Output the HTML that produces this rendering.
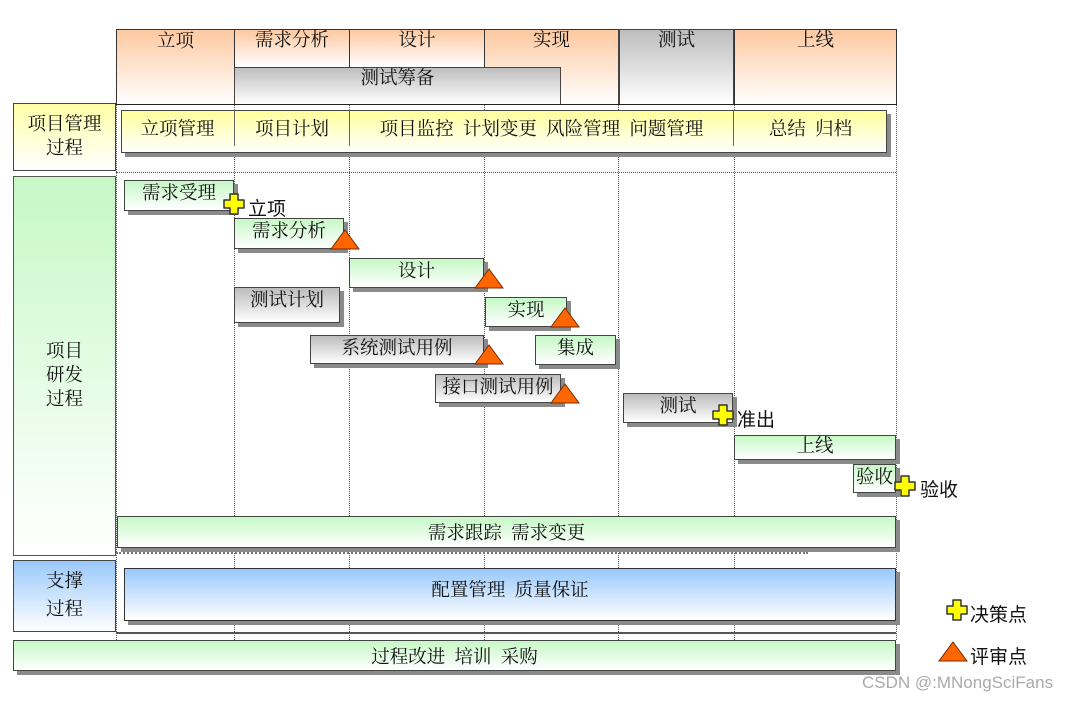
<!DOCTYPE html>
<html><head><meta charset="utf-8"><style>
*{margin:0;padding:0;box-sizing:border-box}
body{width:1077px;height:702px;background:#fff;position:relative;overflow:hidden;font-family:"Liberation Serif","Noto Serif CJK SC","Noto Sans CJK SC",serif;color:#111}
.a{position:absolute}
.t{display:flex;align-items:flex-start;justify-content:center;font-size:18.5px;line-height:22px}
.c{display:flex;align-items:center;justify-content:center;font-size:18.5px}
.org{background:linear-gradient(#fdc9a0,#fff);border:1px solid #333}
.gry{background:linear-gradient(#bdbdbd,#fff);border:1px solid #444}
.grn{background:linear-gradient(#c6f8c6,#fff);border:1px solid #444;box-shadow:4px 4px 0 #8a8a8a}
.gbx{background:linear-gradient(#bcbcbc,#fff);border:1px solid #444;box-shadow:4px 4px 0 #8a8a8a}
.yel{background:linear-gradient(#ffff9c,#fff);border:1px solid #444;box-shadow:4px 4px 0 #8a8a8a}
.blu{background:linear-gradient(#99c8fb,#fff);border:1px solid #333;box-shadow:4px 4px 0 #8a8a8a}
.vl{position:absolute;width:0;border-left:1px dotted #555}
.hl{position:absolute;height:0;border-top:1px dotted #555}
.lbl{font-family:"Liberation Sans","Noto Sans CJK SC",sans-serif;font-size:19px;position:absolute}
</style></head><body>
<div class="vl" style="left:234px;top:104px;height:536px"></div>
<div class="vl" style="left:349px;top:104px;height:536px"></div>
<div class="vl" style="left:484px;top:104px;height:536px"></div>
<div class="vl" style="left:618px;top:104px;height:536px"></div>
<div class="vl" style="left:734px;top:104px;height:536px"></div>
<div class="vl" style="left:896px;top:104px;height:536px"></div>
<div class="vl" style="left:116px;top:104px;height:536px"></div>
<div class="hl" style="left:116px;top:172px;width:780px"></div>
<div class="hl" style="left:116px;top:552px;width:692px;border-top:2px dotted #777"></div>
<div class="a" style="left:116px;top:632px;width:780px;height:2px;background:#555"></div>

<div class="a t org" style="left:116px;top:29px;width:119px;height:76px;padding-top:1px">立项</div>
<div class="a t org" style="left:234px;top:29px;width:116px;height:39px">需求分析</div>
<div class="a t org" style="left:349px;top:29px;width:136px;height:39px">设计</div>
<div class="a t org" style="left:484px;top:29px;width:135px;height:76px">实现</div>
<div class="a t gry" style="left:618px;top:29px;width:117px;height:76px;border-width:1px 2px">测试</div>
<div class="a t org" style="left:734px;top:29px;width:163px;height:76px">上线</div>
<div class="a t gry" style="left:234px;top:67px;width:327px;height:38px;padding-top:0">测试筹备</div>
<div class="a" style="left:116px;top:104px;width:781px;height:1px;background:#222"></div>

<div class="a c" style="left:13px;top:103px;width:103px;height:68px;border:1px solid #444;background:linear-gradient(#ffffa8,#fff);text-align:center;line-height:24px">项目管理<br>过程</div>
<div class="a c" style="left:13px;top:176px;width:103px;height:380px;border:1px solid #555;background:linear-gradient(#c6f8c6,#fff);text-align:center;line-height:24px;padding-top:20px">项目<br>研发<br>过程</div>
<div class="a c" style="left:13px;top:560px;width:103px;height:72px;border:1px solid #444;background:linear-gradient(#99c8fb,#fff);text-align:center;line-height:28px">支撑<br>过程</div>

<div class="a yel" style="left:121px;top:110px;width:766px;height:43px"></div>
<div class="a c" style="left:121px;top:110px;width:113px;height:36px">立项管理</div>
<div class="a c" style="left:234px;top:110px;width:115px;height:36px;border-left:1px solid #666">项目计划</div>
<div class="a c" style="left:349px;top:110px;width:384px;height:36px;border-left:1px solid #666">项目监控&nbsp;&nbsp;计划变更&nbsp;&nbsp;风险管理&nbsp;&nbsp;问题管理</div>
<div class="a c" style="left:733px;top:110px;width:154px;height:36px;border-left:1px solid #666">总结&nbsp;&nbsp;归档</div>

<div class="a t grn" style="left:124px;top:180px;width:110px;height:31px;padding-top:2px">需求受理</div>
<div class="a t grn" style="left:234px;top:218px;width:110px;height:31px;padding-top:2px">需求分析</div>
<div class="a t grn" style="left:349px;top:258px;width:135px;height:30px;padding-top:2px">设计</div>
<div class="a t gbx" style="left:234px;top:287px;width:106px;height:36px;padding-top:2px">测试计划</div>
<div class="a t grn" style="left:485px;top:297px;width:82px;height:30px;padding-top:2px">实现</div>
<div class="a t gbx" style="left:310px;top:335px;width:174px;height:29px;padding-top:2px">系统测试用例</div>
<div class="a t grn" style="left:535px;top:335px;width:81px;height:30px;padding-top:2px">集成</div>
<div class="a t gbx" style="left:435px;top:374px;width:126px;height:29px;padding-top:2px">接口测试用例</div>
<div class="a t gbx" style="left:623px;top:393px;width:110px;height:30px;padding-top:2px">测试</div>
<div class="a t grn" style="left:734px;top:435px;width:162px;height:25px">上线</div>
<div class="a t grn" style="left:853px;top:464px;width:43px;height:29px;padding-top:2px">验收</div>
<div class="a c grn" style="left:117px;top:516px;width:779px;height:32px">需求跟踪&nbsp;&nbsp;需求变更</div>
<div class="a blu" style="left:124px;top:568px;width:772px;height:53px;display:flex;justify-content:center;padding-top:7px;font-size:18.5px">配置管理&nbsp;&nbsp;质量保证</div>
<div class="a c grn" style="left:13px;top:640px;width:883px;height:31px">过程改进&nbsp;&nbsp;培训&nbsp;&nbsp;采购</div>

<svg class="a" style="left:0;top:0" width="1077" height="702">
<defs>
<path id="pl" d="M-4,-10H4V-4H10V4H4V10H-4V4H-10V-4H-4Z" fill="#ffff00" stroke="#333" stroke-width="1.5" stroke-linejoin="round"/>
<path id="tr" d="M0,-19L14,0H-14Z" fill="#ff6600" stroke="#7a2a00" stroke-width="1"/>
</defs>
<use href="#pl" x="234" y="204"/>
<use href="#pl" x="723" y="415"/>
<use href="#pl" x="905" y="486"/>
<use href="#pl" x="957" y="610"/>
<use href="#tr" x="345" y="249"/>
<use href="#tr" x="489" y="288"/>
<use href="#tr" x="565" y="327"/>
<use href="#tr" x="489" y="364"/>
<use href="#tr" x="565" y="403"/>
<use href="#tr" x="953" y="661"/>
</svg>
<div class="lbl" style="left:248px;top:194px">立项</div>
<div class="lbl" style="left:737px;top:405px">准出</div>
<div class="lbl" style="left:920px;top:475px">验收</div>
<div class="lbl" style="left:970px;top:600px">决策点</div>
<div class="lbl" style="left:970px;top:642px">评审点</div>
<div class="a" style="left:862px;top:673px;font-family:'Liberation Sans',sans-serif;font-size:17px;color:#aaa">CSDN @:MNongSciFans</div>
</body></html>
